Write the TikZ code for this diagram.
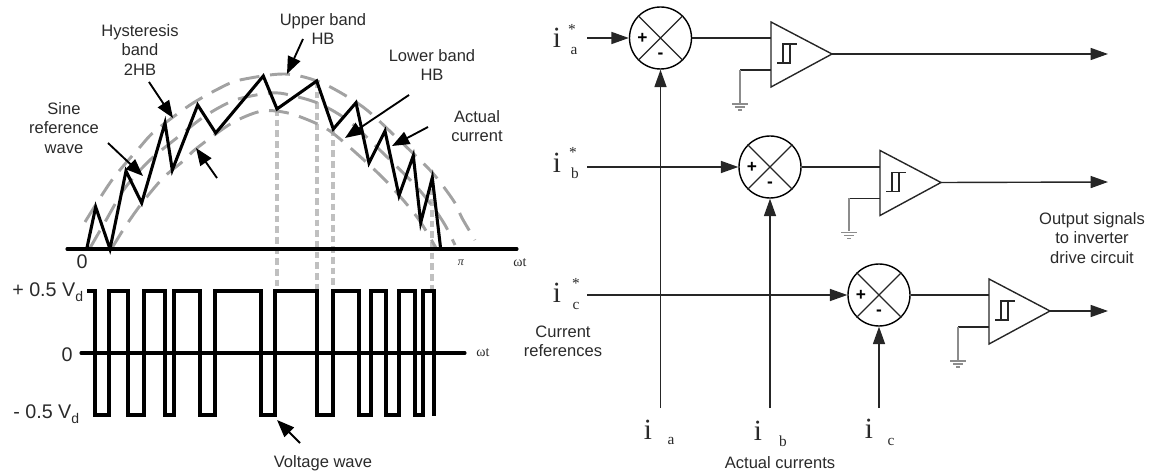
\documentclass[tikz,border=0pt]{standalone}
\usepackage{fontspec}
\setmainfont{Liberation Sans}
\newfontfamily\serifr{Liberation Serif}
\usetikzlibrary{arrows.meta}
\definecolor{txt}{HTML}{2A2A2A}
\definecolor{band}{HTML}{A2A2A2}
\definecolor{guide}{HTML}{C0C0C0}
\tikzset{
  x=0.75pt,y=-0.75pt,
  lbl/.style={font=\fontsize{12.4}{15}\selectfont,text=txt,inner sep=0pt,align=center},
  big/.style={font=\fontsize{14.8}{16}\selectfont,text=txt,inner sep=0pt,anchor=west},
  wave/.style={line width=2.3pt,black,line join=miter},
  axisline/.style={line width=2.3pt,black,line cap=round},
  bandline/.style={line width=2.2pt,band,dash pattern=on 15pt off 8pt,smooth},
  guideline/.style={line width=2.4pt,guide,dash pattern=on 5pt off 3pt},
  callout/.style={line width=1.4pt,black,-{Triangle[length=13pt,width=10pt]}},
  sig/.style={line width=1.05pt,black!85},
  sigarrow/.style={sig,-{Triangle[length=13pt,width=9pt]}},
  summer/.style={circle,draw=black,line width=1.05pt,minimum size=46.5pt,inner sep=0pt},
  gndwire/.style={line width=1pt,black!45},
  iletter/.style={font=\serifr\fontsize{22}{24}\selectfont,text=txt,inner sep=0pt},
  sublet/.style={font=\serifr\fontsize{11.5}{13}\selectfont,text=txt,inner sep=0pt},
  sgn/.style={font=\fontsize{13}{14}\selectfont\bfseries,text=black,inner sep=0pt},
  serifsm/.style={font=\serifr\fontsize{10.5}{12}\selectfont,text=txt,inner sep=0pt}
}
\newcommand{\opamp}[3]{% left x, top y, name
  \coordinate (#3t) at (#1,#2);
  \coordinate (#3b) at (#1,#2+65);
  \coordinate (#3o) at (#1+61,#2+32);
  \coordinate (#3i) at (#1,#2+16);
  \coordinate (#3g) at (#1,#2+48);
  \coordinate (#3e) at (#1-31,#2+48);
  \coordinate (#3f) at (#1-31,#2+81);
  \draw[sig] (#3t) -- (#3o) -- (#3b) -- cycle;
  \draw[sig] (#1+6,#2+41) -- (#1+19,#2+41) -- (#1+19,#2+22) -- (#1+26,#2+22) (#1+12,#2+41) -- (#1+12,#2+22) -- (#1+19,#2+22);
  \draw[sig] (#3g) -- (#3e);
  \draw[gndwire] (#3e) -- (#3f);
  \draw[gndwire] (#1-39,#2+82) -- (#1-23,#2+82) (#1-36,#2+85) -- (#1-26,#2+85) (#1-33,#2+88) -- (#1-29,#2+88);
}
\newcommand{\summing}[2]{% name, center
  \node[summer] (#1) at (#2) {};
  \draw[sig] (#1.45) -- (#1.225) (#1.135) -- (#1.315);
  \node[sgn] at ([xshift=-13.5pt]#1.center) {+};
  \node[sgn] at ([yshift=-13.5pt]#1.center) {-};
}
\newcommand{\Vd}{V\raisebox{-4pt}{\fontsize{10.5}{12}\selectfont d}}
\begin{document}
\begin{tikzpicture}
\useasboundingbox (0,0) rectangle (1150,474);
% guides
\draw[guideline] (277,109) -- (277,290);
\draw[guideline] (317,81) -- (317,290);
\draw[guideline] (333,129) -- (333,290);
\draw[guideline] (432,178) -- (432,290);
% bands
\draw[bandline] plot coordinates {(85,222)(112,180)(140,147)(155,131)(190,105)(220,88)(240,80)(285,74)(322,83)(363,107)(397,138)(427,167)(440,182)(455,203)(462,218)(475,240)};
\draw[bandline] plot coordinates {(90,248)(105,222)(125,188)(150,160)(178,137)(205,116)(235,100)(270,93)(290,95)(320,104)(350,122)(385,155)(415,185)(433,207)(445,225)(455,245)};
\draw[bandline] plot coordinates {(112,248)(125,227)(142,203)(163,178)(182,162)(197,148)(232,123)(262,111)(288,113)(313,122)(330,131)(355,152)(387,182)(417,217)(436,248)};
% axis and current
\coordinate (ax0) at (67,249); \coordinate (ax1) at (517,249);
\draw[axisline] (ax0) -- (ax1);
\draw[wave] (86.7,249) -- (95.7,207) -- (110,249) -- (126,171) -- (141.7,203) -- (165,123) -- (172.3,170) -- (197.7,105) -- (215.7,133) -- (263.3,76) -- (277,109) -- (316.7,81) -- (333.3,129) -- (356,102.7) -- (369,163) -- (385,131) -- (399,195.7) -- (413.3,155.7) -- (420.7,222.7) -- (432.3,177.7) -- (440.7,249);
% voltage
\coordinate (z0) at (81,353); \coordinate (z1) at (465,353);
\draw[axisline] (z0) -- (z1);
\draw[wave] (87,291) -- (95,291) -- (95,415) -- (109,415) -- (109,291) -- (128,291) -- (128,415) -- (144,415) -- (144,291) -- (165,291) -- (165,415) -- (174,415) -- (174,291) -- (200,291) -- (200,415) -- (215,415) -- (215,291) -- (261,291) -- (261,415) -- (275,415) -- (275,291) -- (317,291) -- (317,415) -- (333,415) -- (333,291) -- (359,291) -- (359,415) -- (371,415) -- (371,291) -- (386,291) -- (386,415) -- (399,415) -- (399,291) -- (415,291) -- (415,415) -- (423,415) -- (423,291) -- (434,291) -- (434,416);
% callouts
\coordinate (c1a) at (149,82); \coordinate (c1b) at (173,118);
\coordinate (c2a) at (108,143); \coordinate (c2b) at (143,176);
\coordinate (c3a) at (217,178); \coordinate (c3b) at (196,148);
\coordinate (c4a) at (303,39); \coordinate (c4b) at (287,74);
\coordinate (c5a) at (409,95); \coordinate (c5b) at (345,138);
\coordinate (c6a) at (428,127); \coordinate (c6b) at (392,146);
\coordinate (c7a) at (300,443); \coordinate (c7b) at (277,420);
\foreach \n in {1,...,7} \draw[callout] (c\n a) -- (c\n b);
% left labels
\node[lbl] (hb) at (140,50) {Hysteresis\\[-0.6pt]band\\[-0.6pt]2HB};
\node[lbl] (sr) at (64,128) {Sine\\[-0.6pt]reference\\[-0.6pt]wave};
\node[lbl] (ub) at (323,29) {Upper band\\[-0.6pt]HB};
\node[lbl] (lb) at (432,65) {Lower band\\[-0.6pt]HB};
\node[lbl] (ac) at (477,126) {Actual\\[-0.6pt]current};
\node[big,anchor=center] (zero0) at (82,262) {0};
\node[big,anchor=west] (vp) at (12,292) {+ 0.5 \Vd};
\node[big,anchor=center] (zero1) at (67,355) {0};
\node[big,anchor=west] (vm) at (13,414) {- 0.5 \Vd};
\node[serifsm,font=\serifr\itshape\fontsize{9}{10}\selectfont] (pi) at (461,263) {π};
\node[serifsm] (wt1) at (520,263) {ωt};
\node[serifsm] (wt2) at (483,353) {ωt};
\node[lbl] (vw) at (323,463) {Voltage wave};
% summers
\summing{sa}{660.5,38}
\summing{sb}{770,167}
\summing{sc}{879,295}
% op amps
\opamp{771}{22}{ta}
\opamp{880}{150.5}{tb}
\opamp{989}{279}{tc}
% inputs
\coordinate (ia) at (587,38); \coordinate (ib) at (587,167); \coordinate (ic) at (587,295);
\draw[sigarrow] (ia) -- (sa.west);
\draw[sigarrow] (ib) -- (sb.west);
\draw[sigarrow] (ic) -- (sc.west);
% feedback
\coordinate (fa) at (660.5,408); \coordinate (fb) at (770,408); \coordinate (fc) at (879,408);
\draw[sigarrow] (fa) -- (sa.south);
\draw[sigarrow] (fb) -- (sb.south);
\draw[sigarrow] (fc) -- (sc.south);
% links and outputs
\draw[sig] (sa.east) -- (sa.east -| tai);
\draw[sig] (sb.east) -- (sb.east -| tbi);
\draw[sig] (sc.east) -- (sc.east -| tci);
\coordinate (oa) at (1108,54); \coordinate (ob) at (1108,182); \coordinate (oc) at (1108,311);
\draw[sigarrow] (tao) -- (oa);
\draw[sigarrow] (tbo) -- (ob);
\draw[sigarrow] (tco) -- (oc);
% right labels
\node[iletter] (lia) at (557,38) {i};
\node[sublet] at (572,29) {*};
\node[sublet] (sa1) at (574,51) {a};
\node[iletter] (lib) at (557,163) {i};
\node[sublet] at (573,152) {*};
\node[sublet] (sb1) at (575,173) {b};
\node[iletter] (lic) at (557,293) {i};
\node[sublet] at (576,283) {*};
\node[sublet] (sc1) at (576,306) {c};
\node[iletter] (bia) at (648,430) {i};
\node[sublet] at (671,441) {a};
\node[iletter] (bib) at (758,431) {i};
\node[sublet] at (783,441) {b};
\node[iletter] (bic) at (869,429) {i};
\node[sublet] at (891,442) {c};
\node[lbl] (cr) at (563,341.5) {Current\\[-0.6pt]references};
\node[lbl] (acu) at (780,463) {Actual currents};
\node[lbl] (os) at (1092,238) {Output signals\\[-0.6pt]to inverter\\[-0.6pt]drive circuit};
\end{tikzpicture}
\end{document}
